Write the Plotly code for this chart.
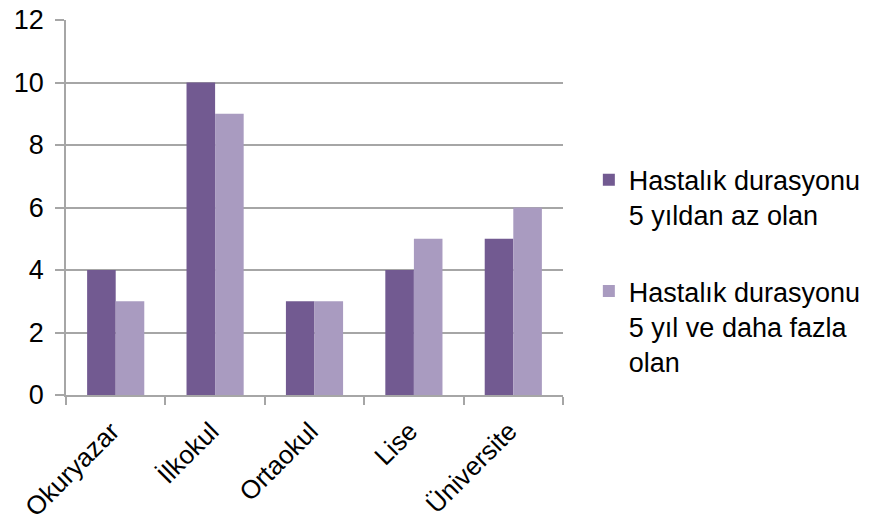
import plotly.graph_objects as go

categories = ["Okuryazar", "İlkokul", "Ortaokul", "Lise", "Üniversite"]
series1_name = "Hastalık durasyonu<br>5 yıldan az olan"
series1_values = [4, 10, 3, 4, 5]
series2_name = "Hastalık durasyonu<br>5 yıl ve daha fazla<br>olan"
series2_values = [3, 9, 3, 5, 6]
y_ticks = [0, 2, 4, 6, 8, 10, 12]

FONT = "Liberation Sans, Arial, sans-serif"
GRID = "#a6a6a6"

fig = go.Figure()
fig.add_trace(go.Bar(x=categories, y=series1_values, name=series1_name,
                     marker=dict(color="#725a91", line=dict(width=0)),
                     legendgroup="a"))
fig.add_trace(go.Bar(x=categories, y=series2_values, name=series2_name,
                     marker=dict(color="#a99bc0", line=dict(width=0)),
                     legendgroup="b"))

fig.update_layout(
    width=883, height=528,
    margin=dict(l=66, r=320, t=20, b=133),
    paper_bgcolor="white", plot_bgcolor="white",
    barmode="group", bargap=0.425, bargroupgap=0,
    font=dict(family=FONT, size=27, color="#000000"),
    showlegend=True,
    legend=dict(x=1.052, y=0.638, xanchor="left", yanchor="top",
                font=dict(size=27, color="#000000"),
                valign="top", tracegroupgap=38,
                bgcolor="rgba(0,0,0,0)"),
    xaxis=dict(
        type="category", tickangle=-45, automargin=False,
        showline=True, linecolor=GRID, linewidth=1.5,
        ticks="outside", ticklen=8, tickcolor=GRID, tickwidth=1.5,
        tickson="boundaries", showgrid=False,
        ticklabelstandoff=9, ticklabelshift=-4,
        tickfont=dict(size=26, color="#000000"),
    ),
    yaxis=dict(
        range=[0, 12], tickvals=y_ticks, ticktext=[str(v) for v in y_ticks],
        automargin=False,
        showline=True, linecolor=GRID, linewidth=1.5,
        ticks="outside", ticklen=9, tickcolor=GRID, tickwidth=1.5,
        showgrid=True, gridcolor=GRID, gridwidth=1.5,
        zeroline=False, ticklabelstandoff=6,
        tickfont=dict(size=27, color="#000000"),
    ),
)

fig.write_html("out.html")
